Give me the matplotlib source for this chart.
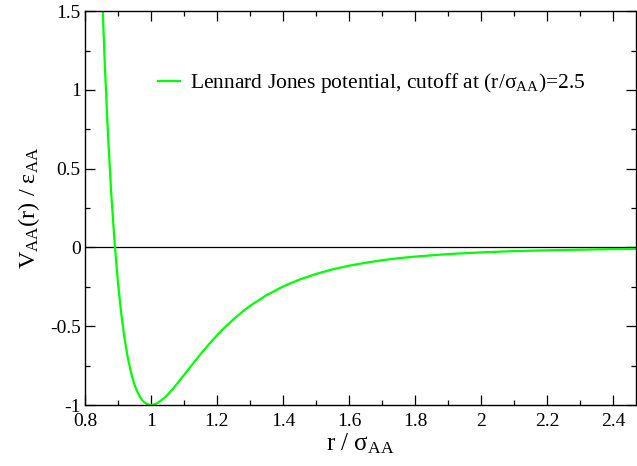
import matplotlib
matplotlib.use("Agg")
import matplotlib.pyplot as plt
from matplotlib.ticker import MultipleLocator

plt.rcParams['font.family'] = 'Liberation Serif'
plt.rcParams['mathtext.fontset'] = 'custom'
plt.rcParams['mathtext.rm'] = 'Liberation Serif'
plt.rcParams['mathtext.it'] = 'Liberation Serif:italic'

# values
r = [0.85, 0.86, 0.87, 0.88, 0.89, 0.90, 0.91, 0.92, 0.93, 0.94, 0.95,
     0.96, 0.97, 0.98, 0.99, 1.00, 1.01, 1.02, 1.04, 1.05, 1.07, 1.10,
     1.12, 1.15, 1.18, 1.20, 1.22, 1.25, 1.28, 1.30, 1.35, 1.40, 1.45,
     1.50, 1.55, 1.60, 1.65, 1.70, 1.75, 1.80, 1.90, 2.00, 2.10, 2.20,
     2.30, 2.40, 2.50]
v = [1.727, 1.166, 0.706, 0.330, 0.025, -0.223, -0.421, -0.579, -0.702,
     -0.798, -0.870, -0.923, -0.960, -0.983, -0.996, -1.000, -0.997,
     -0.987, -0.956, -0.936, -0.889, -0.810, -0.757, -0.678, -0.604,
     -0.558, -0.515, -0.456, -0.403, -0.371, -0.303, -0.248, -0.204,
     -0.168, -0.139, -0.116, -0.097, -0.081, -0.068, -0.058, -0.042,
     -0.031, -0.023, -0.018, -0.014, -0.010, -0.008]

fig = plt.figure(figsize=(6.37, 4.66), dpi=100)
ax = fig.add_axes([0.1334, 0.1309, 0.865, 0.845])

ax.axhline(0, color='black', lw=0.9)
ax.plot(r, v, color='#00ff00', lw=1.6,
        label=r'Lennard Jones potential, cutoff at (r/σ$_{\mathrm{AA}}$)=2.5')

ax.set_xlim(0.8, 2.47)
ax.set_ylim(-1, 1.5)
ax.xaxis.set_minor_locator(MultipleLocator(0.1))
ax.yaxis.set_minor_locator(MultipleLocator(0.25))
ax.set_xticks([0.8, 1.0, 1.2, 1.4, 1.6, 1.8, 2.0, 2.2, 2.4])
ax.set_xticklabels(['0.8', '1', '1.2', '1.4', '1.6', '1.8', '2', '2.2', '2.4'])
ax.set_yticks([-1, -0.5, 0, 0.5, 1, 1.5])
ax.set_yticklabels(['-1', '-0.5', '0', '0.5', '1', '1.5'])
ax.tick_params(which='both', direction='in', top=True, right=True, labelsize=14)
ax.tick_params(which='major', length=7, width=0.9)
ax.tick_params(which='minor', length=3.5, width=0.9)
ax.tick_params(axis='x', pad=6)
ax.tick_params(axis='y', pad=3)
for s in ax.spines.values():
    s.set_linewidth(1.0)

ax.set_xlabel(r'r / σ$_{\mathrm{AA}}$', fontsize=18, labelpad=1)
ax.set_ylabel(r'V$_{\mathrm{AA}}$(r) / ε$_{\mathrm{AA}}$', fontsize=17.5, labelpad=6)

ax.legend(loc='upper left', bbox_to_anchor=(0.1325, 0.848), frameon=False,
          fontsize=15.5, handlelength=1.0, handletextpad=0.5,
          borderpad=0, borderaxespad=0)

fig.savefig('out.png', dpi=100)
